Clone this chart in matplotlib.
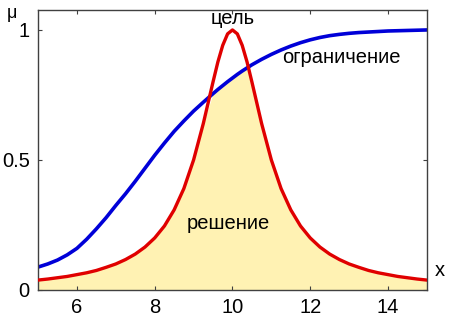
import numpy as np
import matplotlib.pyplot as plt

plt.rcParams.update({
    "font.family": ["Liberation Sans", "DejaVu Sans"],
    "font.size": 14.5,
    "axes.edgecolor": "#404040",
    "axes.linewidth": 1.0,
    "xtick.direction": "in",
    "ytick.direction": "in",
    "xtick.major.size": 3,
    "ytick.major.size": 3,
    "xtick.top": True,
    "ytick.right": True,
})

RED = "#e00000"
BLUE = "#0000d8"
FILL = "#fff2b3"

# x positions
x = [5.0, 5.25, 5.5, 5.75, 6.0, 6.25, 6.5, 6.75, 7.0, 7.25, 7.5, 7.75,
     8.0, 8.25, 8.5, 8.75, 9.0, 9.25, 9.5, 9.625, 9.75, 9.875, 10.0,
     10.125, 10.25, 10.375, 10.5, 10.75, 11.0, 11.25, 11.5, 11.75, 12.0,
     12.25, 12.5, 12.75, 13.0, 13.25, 13.5, 13.75, 14.0, 14.25, 14.5,
     14.75, 15.0]

# goal ("цель") membership, red
goal = [0.038, 0.042, 0.047, 0.052, 0.059, 0.066, 0.075, 0.087, 0.100,
        0.117, 0.138, 0.165, 0.200, 0.246, 0.308, 0.390, 0.500, 0.640,
        0.800, 0.877, 0.941, 0.985, 1.000, 0.985, 0.941, 0.877, 0.800,
        0.640, 0.500, 0.390, 0.308, 0.246, 0.200, 0.165, 0.138, 0.117,
        0.100, 0.087, 0.075, 0.066, 0.059, 0.052, 0.047, 0.042, 0.038]

# constraint ("ограничение") membership, blue
constraint = [0.088, 0.100, 0.115, 0.135, 0.160, 0.195, 0.235, 0.278, 0.325,
              0.370, 0.418, 0.468, 0.518, 0.565, 0.610, 0.650, 0.688, 0.722,
              0.755, 0.771, 0.786, 0.801, 0.815, 0.829, 0.842, 0.854, 0.866,
              0.887, 0.906, 0.923, 0.938, 0.951, 0.962, 0.971, 0.978, 0.983,
              0.987, 0.990, 0.992, 0.994, 0.996, 0.997, 0.998, 0.999, 1.000]

x = np.array(x)
goal = np.array(goal)
constraint = np.array(constraint)
solution = np.minimum(goal, constraint)

fig = plt.figure(figsize=(4.64, 3.31), dpi=100)
ax = fig.add_axes([0.082, 0.124, 0.838, 0.846])

ax.fill_between(x, 0, solution, color=FILL, lw=0, zorder=1)
ax.plot(x, constraint, color=BLUE, lw=2.6, solid_joinstyle="round", zorder=2)
ax.plot(x, goal, color=RED, lw=2.4, solid_joinstyle="round", zorder=3)

ax.set_xlim(5, 15)
ax.set_ylim(0, 1.077)
ax.set_xticks([6, 8, 10, 12, 14])
ax.set_yticks([0, 0.5, 1])
ax.set_yticklabels(["0", "0.5", "1"])
ax.tick_params(colors="#404040", labelcolor="black", pad=6)

ax.text(10, 1.045, "цель", ha="center", va="center", fontsize=14.5)
ax.text(12.8, 0.895, "ограничение", ha="center", va="center", fontsize=14.5)
ax.text(9.9, 0.255, "решение", ha="center", va="center", fontsize=14.5)

fig.text(12 / 464, 1 - 14 / 331, "μ", ha="center", va="center", fontsize=13)
fig.text(440 / 464, 1 - 270 / 331, "x", ha="center", va="center", fontsize=14.5)

fig.savefig("out.png", dpi=100)
